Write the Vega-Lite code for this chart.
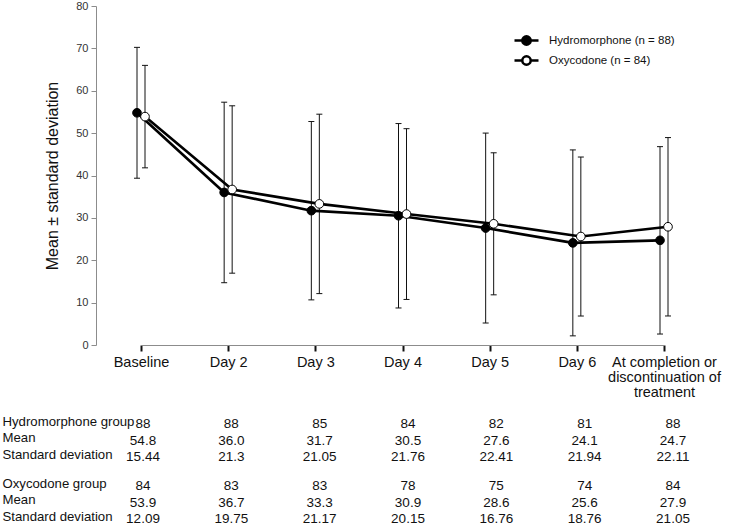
{
  "$schema": "https://vega.github.io/schema/vega-lite/v6.json",
  "background": "white",
  "padding": {"left": 2, "top": 0, "right": 2, "bottom": 0},
  "config": {
    "font": "Liberation Sans",
    "view": {"stroke": null},
    "axis": {"grid": false}
  },
  "datasets": {
    "stats": [
      {"group": "Hydromorphone (n = 88)", "cat": "Baseline", "mean": 54.8, "lo": 39.36, "hi": 70.24},
      {"group": "Hydromorphone (n = 88)", "cat": "Day 2", "mean": 36.0, "lo": 14.7, "hi": 57.3},
      {"group": "Hydromorphone (n = 88)", "cat": "Day 3", "mean": 31.7, "lo": 10.65, "hi": 52.75},
      {"group": "Hydromorphone (n = 88)", "cat": "Day 4", "mean": 30.5, "lo": 8.74, "hi": 52.26},
      {"group": "Hydromorphone (n = 88)", "cat": "Day 5", "mean": 27.6, "lo": 5.19, "hi": 50.01},
      {"group": "Hydromorphone (n = 88)", "cat": "Day 6", "mean": 24.1, "lo": 2.16, "hi": 46.04},
      {"group": "Hydromorphone (n = 88)", "cat": "At completion or discontinuation of treatment", "mean": 24.7, "lo": 2.59, "hi": 46.81},
      {"group": "Oxycodone (n = 84)", "cat": "Baseline", "mean": 53.9, "lo": 41.81, "hi": 65.99},
      {"group": "Oxycodone (n = 84)", "cat": "Day 2", "mean": 36.7, "lo": 16.95, "hi": 56.45},
      {"group": "Oxycodone (n = 84)", "cat": "Day 3", "mean": 33.3, "lo": 12.13, "hi": 54.47},
      {"group": "Oxycodone (n = 84)", "cat": "Day 4", "mean": 30.9, "lo": 10.75, "hi": 51.05},
      {"group": "Oxycodone (n = 84)", "cat": "Day 5", "mean": 28.6, "lo": 11.84, "hi": 45.36},
      {"group": "Oxycodone (n = 84)", "cat": "Day 6", "mean": 25.6, "lo": 6.84, "hi": 44.36},
      {"group": "Oxycodone (n = 84)", "cat": "At completion or discontinuation of treatment", "mean": 27.9, "lo": 6.85, "hi": 48.95}
    ],
    "table": [
      {"g": "H", "row": "Hydromorphone group", "cat": "Baseline", "t": "88"},
      {"g": "H", "row": "Hydromorphone group", "cat": "Day 2", "t": "88"},
      {"g": "H", "row": "Hydromorphone group", "cat": "Day 3", "t": "85"},
      {"g": "H", "row": "Hydromorphone group", "cat": "Day 4", "t": "84"},
      {"g": "H", "row": "Hydromorphone group", "cat": "Day 5", "t": "82"},
      {"g": "H", "row": "Hydromorphone group", "cat": "Day 6", "t": "81"},
      {"g": "H", "row": "Hydromorphone group", "cat": "At completion or discontinuation of treatment", "t": "88"},
      {"g": "H", "row": "Mean", "cat": "Baseline", "t": "54.8"},
      {"g": "H", "row": "Mean", "cat": "Day 2", "t": "36.0"},
      {"g": "H", "row": "Mean", "cat": "Day 3", "t": "31.7"},
      {"g": "H", "row": "Mean", "cat": "Day 4", "t": "30.5"},
      {"g": "H", "row": "Mean", "cat": "Day 5", "t": "27.6"},
      {"g": "H", "row": "Mean", "cat": "Day 6", "t": "24.1"},
      {"g": "H", "row": "Mean", "cat": "At completion or discontinuation of treatment", "t": "24.7"},
      {"g": "H", "row": "Standard deviation", "cat": "Baseline", "t": "15.44"},
      {"g": "H", "row": "Standard deviation", "cat": "Day 2", "t": "21.3"},
      {"g": "H", "row": "Standard deviation", "cat": "Day 3", "t": "21.05"},
      {"g": "H", "row": "Standard deviation", "cat": "Day 4", "t": "21.76"},
      {"g": "H", "row": "Standard deviation", "cat": "Day 5", "t": "22.41"},
      {"g": "H", "row": "Standard deviation", "cat": "Day 6", "t": "21.94"},
      {"g": "H", "row": "Standard deviation", "cat": "At completion or discontinuation of treatment", "t": "22.11"},
      {"g": "O", "row": "Oxycodone group", "cat": "Baseline", "t": "84"},
      {"g": "O", "row": "Oxycodone group", "cat": "Day 2", "t": "83"},
      {"g": "O", "row": "Oxycodone group", "cat": "Day 3", "t": "83"},
      {"g": "O", "row": "Oxycodone group", "cat": "Day 4", "t": "78"},
      {"g": "O", "row": "Oxycodone group", "cat": "Day 5", "t": "75"},
      {"g": "O", "row": "Oxycodone group", "cat": "Day 6", "t": "74"},
      {"g": "O", "row": "Oxycodone group", "cat": "At completion or discontinuation of treatment", "t": "84"},
      {"g": "O", "row": "Mean", "cat": "Baseline", "t": "53.9"},
      {"g": "O", "row": "Mean", "cat": "Day 2", "t": "36.7"},
      {"g": "O", "row": "Mean", "cat": "Day 3", "t": "33.3"},
      {"g": "O", "row": "Mean", "cat": "Day 4", "t": "30.9"},
      {"g": "O", "row": "Mean", "cat": "Day 5", "t": "28.6"},
      {"g": "O", "row": "Mean", "cat": "Day 6", "t": "25.6"},
      {"g": "O", "row": "Mean", "cat": "At completion or discontinuation of treatment", "t": "27.9"},
      {"g": "O", "row": "Standard deviation", "cat": "Baseline", "t": "12.09"},
      {"g": "O", "row": "Standard deviation", "cat": "Day 2", "t": "19.75"},
      {"g": "O", "row": "Standard deviation", "cat": "Day 3", "t": "21.17"},
      {"g": "O", "row": "Standard deviation", "cat": "Day 4", "t": "20.15"},
      {"g": "O", "row": "Standard deviation", "cat": "Day 5", "t": "16.76"},
      {"g": "O", "row": "Standard deviation", "cat": "Day 6", "t": "18.76"},
      {"g": "O", "row": "Standard deviation", "cat": "At completion or discontinuation of treatment", "t": "21.05"}
    ]
  },
  "spacing": 14,
  "vconcat": [
    {
      "width": 606,
      "height": 339,
      "data": {"name": "stats"},
      "encoding": {
        "x": {
          "field": "cat", "type": "nominal",
          "sort": ["Baseline", "Day 2", "Day 3", "Day 4", "Day 5", "Day 6", "At completion or discontinuation of treatment"],
          "scale": {"type": "point", "range": [45, 568], "padding": 0},
          "axis": {
            "title": null, "labelAngle": 0, "labelFontSize": 14.5, "labelColor": "#111",
            "labelPadding": 4, "labelLimit": 0, "labelLineHeight": 15,
            "labelExpr": "length(datum.label) > 10 ? ['At completion or', 'discontinuation of', 'treatment'] : datum.label",
            "domainColor": "#8c8c8c", "domainWidth": 1, "tickColor": "#111", "tickWidth": 2, "tickSize": 6
          }
        },
        "xOffset": {"field": "group", "type": "nominal", "scale": {"type": "point", "range": [-4, 4], "padding": 0}}
      },
      "layer": [
        {
          "mark": {"type": "rule", "color": "#111", "strokeWidth": 1},
          "encoding": {
            "y": {
              "field": "lo", "type": "quantitative",
              "scale": {"domain": [0, 80], "nice": false},
              "axis": {
                "title": "Mean ± standard deviation", "titleFontSize": 16, "titleFontWeight": "normal",
                "titleColor": "#111", "titlePadding": 15, "values": [0, 10, 20, 30, 40, 50, 60, 70, 80],
                "labelFontSize": 11, "labelColor": "#333", "labelPadding": 3,
                "domainColor": "#8c8c8c", "tickColor": "#8c8c8c", "tickSize": 5
              }
            },
            "y2": {"field": "hi"}
          }
        },
        {
          "mark": {"type": "tick", "color": "#111", "size": 6, "thickness": 1, "opacity": 1},
          "encoding": {"y": {"field": "lo", "type": "quantitative"}}
        },
        {
          "mark": {"type": "tick", "color": "#111", "size": 6, "thickness": 1, "opacity": 1},
          "encoding": {"y": {"field": "hi", "type": "quantitative"}}
        },
        {
          "mark": {"type": "line", "color": "black", "strokeWidth": 2.6},
          "encoding": {
            "y": {"field": "mean", "type": "quantitative"},
            "detail": {"field": "group", "type": "nominal"}
          }
        },
        {
          "mark": {"type": "point", "filled": true, "size": 75, "stroke": "black", "strokeWidth": 1, "opacity": 1},
          "encoding": {
            "y": {"field": "mean", "type": "quantitative"},
            "fill": {
              "field": "group", "type": "nominal",
              "scale": {"domain": ["Hydromorphone (n = 88)", "Oxycodone (n = 84)"], "range": ["black", "white"]},
              "legend": {
                "title": null, "orient": "none", "legendX": 423, "legendY": 27,
                "labelFontSize": 11.5, "labelColor": "#111", "labelOffset": 15,
                "symbolType": "M-2,0H-0.7M0.7,0H2M0.7,0A0.7,0.7 0 1,1 -0.7,0A0.7,0.7 0 1,1 0.7,0Z",
                "symbolSize": 144, "symbolStrokeColor": "black", "symbolStrokeWidth": 2.5,
                "symbolOpacity": 1, "rowPadding": 1, "padding": 0
              }
            }
          }
        }
      ]
    },
    {
      "spacing": 11,
      "vconcat": [
        {
          "width": 606,
          "height": 49.5,
          "data": {"name": "table"},
          "transform": [{"filter": "datum.g == 'H'"}],
          "mark": {"type": "text", "fontSize": 13.5, "baseline": "middle", "dy": 3, "color": "#111"},
          "encoding": {
            "x": {
              "field": "cat", "type": "nominal",
              "sort": ["Baseline", "Day 2", "Day 3", "Day 4", "Day 5", "Day 6", "At completion or discontinuation of treatment"],
              "scale": {"type": "point", "range": [47, 577], "padding": 0}, "axis": null
            },
            "y": {
              "field": "row", "type": "nominal",
              "sort": ["Hydromorphone group", "Mean", "Standard deviation"],
              "scale": {"type": "point", "padding": 0.5},
              "axis": {"title": null, "domain": false, "ticks": false, "tickSize": 0, "labelAlign": "left", "labelPadding": 94, "labelFontSize": 13.2, "labelColor": "#111", "labelLimit": 0}
            },
            "text": {"field": "t", "type": "nominal"}
          }
        },
        {
          "width": 606,
          "height": 49.5,
          "data": {"name": "table"},
          "transform": [{"filter": "datum.g == 'O'"}],
          "mark": {"type": "text", "fontSize": 13.5, "baseline": "middle", "dy": 3, "color": "#111"},
          "encoding": {
            "x": {
              "field": "cat", "type": "nominal",
              "sort": ["Baseline", "Day 2", "Day 3", "Day 4", "Day 5", "Day 6", "At completion or discontinuation of treatment"],
              "scale": {"type": "point", "range": [47, 577], "padding": 0}, "axis": null
            },
            "y": {
              "field": "row", "type": "nominal",
              "sort": ["Oxycodone group", "Mean", "Standard deviation"],
              "scale": {"type": "point", "padding": 0.5},
              "axis": {"title": null, "domain": false, "ticks": false, "tickSize": 0, "labelAlign": "left", "labelPadding": 94, "labelFontSize": 13.2, "labelColor": "#111", "labelLimit": 0}
            },
            "text": {"field": "t", "type": "nominal"}
          }
        }
      ]
    }
  ]
}
